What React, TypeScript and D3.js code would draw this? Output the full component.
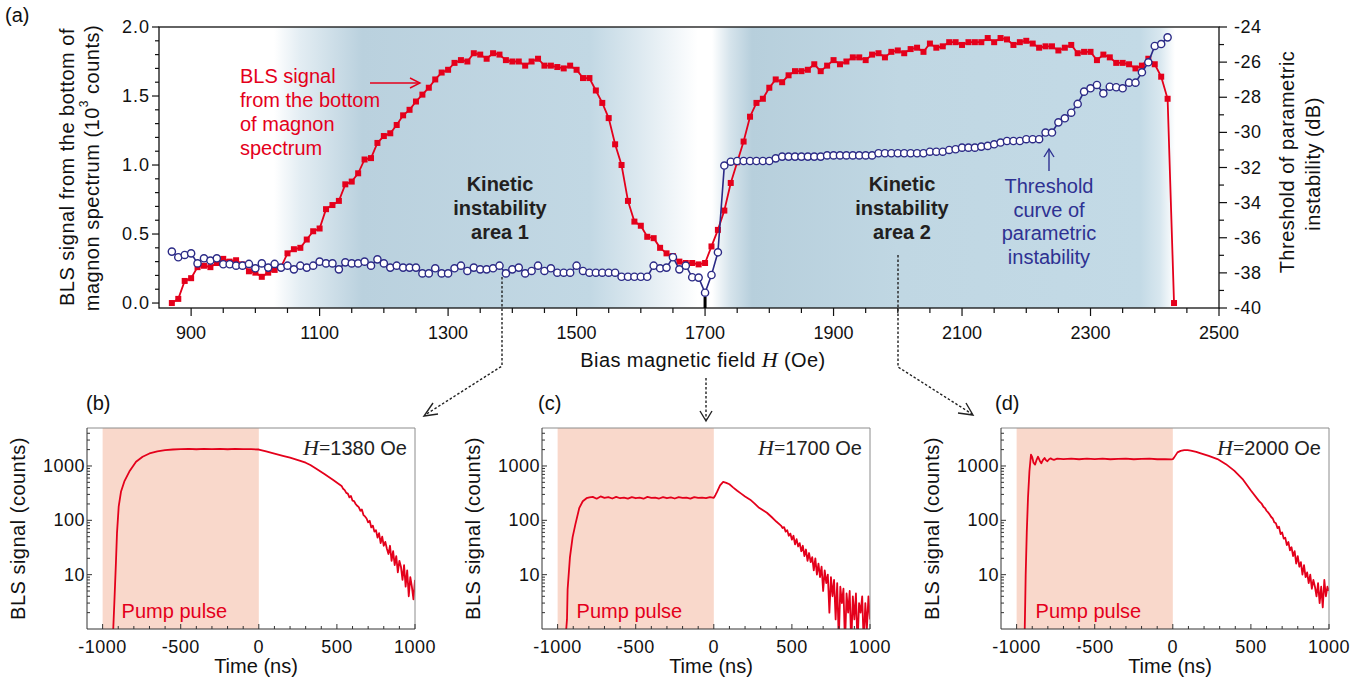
import React from 'react';
import * as d3 from 'd3';

const RED = '#e4001b';
const BLUE = '#2b2a86';
const NOTE_BLUE = '#2e3192';
const SANS = '"Liberation Sans", Arial, Helvetica, sans-serif';
const SERIF = '"Liberation Serif", "Times New Roman", serif';

// ---- panel (a): field sweep ----
const fieldOe = [
  870, 880, 890, 900, 910, 920, 930, 940, 950, 960,
  970, 980, 990, 1000, 1010, 1020, 1030, 1040, 1050, 1060,
  1070, 1080, 1090, 1100, 1110, 1120, 1130, 1140, 1150, 1160,
  1170, 1180, 1190, 1200, 1210, 1220, 1230, 1240, 1250, 1260,
  1270, 1280, 1290, 1300, 1310, 1320, 1330, 1340, 1350, 1360,
  1370, 1380, 1390, 1400, 1410, 1420, 1430, 1440, 1450, 1460,
  1470, 1480, 1490, 1500, 1510, 1520, 1530, 1540, 1550, 1560,
  1570, 1580, 1590, 1600, 1610, 1620, 1630, 1640, 1650, 1660,
  1670, 1680, 1690, 1700, 1710, 1720, 1730, 1740, 1750, 1760,
  1770, 1780, 1790, 1800, 1810, 1820, 1830, 1840, 1850, 1860,
  1870, 1880, 1890, 1900, 1910, 1920, 1930, 1940, 1950, 1960,
  1970, 1980, 1990, 2000, 2010, 2020, 2030, 2040, 2050, 2060,
  2070, 2080, 2090, 2100, 2110, 2120, 2130, 2140, 2150, 2160,
  2170, 2180, 2190, 2200, 2210, 2220, 2230, 2240, 2250, 2260,
  2270, 2280, 2290, 2300, 2310, 2320, 2330, 2340, 2350, 2360,
  2370, 2380, 2390, 2400, 2410, 2420, 2430,
];

// BLS signal, 10^3 counts
const blsSignal = [
  0.0, 0.03, 0.16, 0.18, 0.26, 0.27, 0.26, 0.29, 0.32, 0.3,
  0.31, 0.28, 0.23, 0.22, 0.19, 0.22, 0.24, 0.26, 0.36, 0.39,
  0.4, 0.46, 0.52, 0.54, 0.68, 0.71, 0.74, 0.86, 0.88, 0.94,
  1.04, 1.05, 1.16, 1.21, 1.23, 1.29, 1.36, 1.4, 1.46, 1.51,
  1.56, 1.62, 1.67, 1.69, 1.74, 1.76, 1.75, 1.81, 1.8, 1.77,
  1.81, 1.8, 1.76, 1.75, 1.75, 1.72, 1.75, 1.77, 1.72, 1.72,
  1.71, 1.7, 1.72, 1.69, 1.63, 1.63, 1.54, 1.45, 1.34, 1.15,
  1.0, 0.74, 0.59, 0.56, 0.48, 0.47, 0.4, 0.36, 0.34, 0.3,
  0.29, 0.29, 0.28, 0.29, 0.41, 0.53, 0.67, 0.87, 1.02, 1.17,
  1.35, 1.45, 1.48, 1.56, 1.62, 1.6, 1.65, 1.68, 1.68, 1.69,
  1.73, 1.68, 1.72, 1.76, 1.73, 1.75, 1.78, 1.78, 1.76, 1.8,
  1.81, 1.78, 1.82, 1.83, 1.81, 1.84, 1.85, 1.82, 1.88, 1.85,
  1.86, 1.89, 1.89, 1.87, 1.89, 1.89, 1.89, 1.92, 1.89, 1.92,
  1.91, 1.87, 1.89, 1.9, 1.88, 1.85, 1.86, 1.86, 1.83, 1.85,
  1.87, 1.81, 1.82, 1.82, 1.76, 1.8, 1.78, 1.74, 1.74, 1.73,
  1.7, 1.72, 1.77, 1.73, 1.64, 1.48, 0.0,
];

// threshold of parametric instability, dB (870 ... 2420 Oe)
const thresholdDb = [
  -36.79, -37.11, -36.98, -36.89, -37.46, -37.17, -37.3, -37.17, -37.51, -37.51,
  -37.59, -37.59, -37.49, -37.74, -37.46, -37.7, -37.49, -37.7, -37.59, -37.8,
  -37.59, -37.7, -37.59, -37.36, -37.46, -37.46, -37.8, -37.4, -37.46, -37.46,
  -37.36, -37.59, -37.23, -37.46, -37.7, -37.59, -37.7, -37.7, -37.7, -38.03,
  -38.03, -37.74, -38.03, -38.03, -37.74, -37.59, -37.89, -37.7, -37.8, -37.8,
  -37.74, -37.59, -38.03, -37.8, -37.7, -38.03, -37.89, -37.59, -37.89, -37.74,
  -37.99, -37.99, -37.99, -37.59, -37.89, -37.99, -37.99, -37.99, -37.99, -37.99,
  -38.22, -38.22, -38.22, -38.22, -38.22, -37.59, -37.74, -37.7, -37.11, -37.8,
  -37.59, -38.25, -38.27, -39.13, -38.12, -36.83, -31.89, -31.67, -31.63, -31.63,
  -31.63, -31.63, -31.63, -31.63, -31.48, -31.38, -31.38, -31.38, -31.38, -31.38,
  -31.38, -31.38, -31.31, -31.31, -31.31, -31.31, -31.31, -31.31, -31.31, -31.31,
  -31.19, -31.19, -31.19, -31.19, -31.19, -31.19, -31.19, -31.19, -31.1, -31.1,
  -31.1, -31.0, -30.96, -30.87, -30.87, -30.87, -30.81, -30.77, -30.68, -30.58,
  -30.49, -30.49, -30.49, -30.39, -30.39, -30.39, -30.01, -30.01, -29.43, -29.2,
  -28.88, -28.38, -27.68, -27.49, -27.3, -27.78, -27.4, -27.43, -27.49, -27.17,
  -27.17, -26.58, -26.01, -25.08, -24.97, -24.59,
];

const fieldTicks = [900, 1100, 1300, 1500, 1700, 1900, 2100, 2300, 2500];
const signalTicks = [0, 0.5, 1, 1.5, 2];
const thresholdTicks = [-40, -38, -36, -34, -32, -30, -28, -26, -24];

// ---- panels (b)-(d): time traces [ns, counts] ----
const traceB: [number, number][] = [
  [-935, 0.5], [-932, 1.0], [-925, 3], [-915, 16], [-908, 58], [-897, 180], [-882, 340],
  [-861, 520], [-829, 790], [-786, 1200], [-744, 1480], [-700, 1700], [-650, 1850],
  [-600, 1950], [-550, 2010], [-500, 2040], [-450, 2070], [-400, 2030], [-350, 2060],
  [-300, 2050], [-250, 2070], [-200, 2030], [-150, 2060], [-100, 2050], [-50, 2040],
  [0, 2010], [47, 1850], [100, 1690], [154, 1540], [200, 1420], [261, 1260], [300, 1150],
  [330, 1040], [368, 890], [420, 710], [474, 560],
  [530, 430], [540, 380], [550, 360], [560, 320], [570, 310], [580, 265], [590, 280],
  [600, 230], [610, 225], [620, 200], [630, 185], [640, 175], [650, 150], [660, 158],
  [670, 125], [680, 118], [690, 108], [700, 92], [710, 98], [720, 74], [730, 80],
  [740, 62], [750, 66], [760, 48], [770, 58], [780, 38], [790, 50], [800, 34],
  [810, 40], [820, 30], [830, 24], [840, 34], [850, 18], [860, 27], [870, 15],
  [880, 22], [890, 11], [900, 18], [910, 14], [920, 8], [930, 15], [940, 6],
  [950, 12], [960, 4], [970, 9], [980, 6], [990, 3.5], [1000, 8],
];

const traceC: [number, number][] = [
  [-950, 0.5], [-946, 0.9], [-940, 1.5], [-936, 5.4], [-921, 21], [-904, 49], [-886, 85],
  [-861, 170], [-839, 224], [-815, 255], [-796, 265],
  [-775, 270], [-750, 250], [-725, 275], [-700, 258], [-675, 268], [-650, 252],
  [-625, 270], [-600, 255], [-575, 262], [-550, 250], [-525, 268], [-500, 255],
  [-475, 262], [-450, 250], [-425, 270], [-400, 258], [-375, 262], [-350, 252],
  [-325, 268], [-300, 255], [-275, 265], [-250, 252], [-225, 268], [-200, 258],
  [-175, 262], [-150, 250], [-125, 268], [-100, 258], [-75, 262], [-50, 255],
  [-25, 268], [0, 260],
  [10, 290], [20, 330], [40, 440], [60, 510], [80, 490], [100, 460], [125, 400],
  [150, 350], [175, 310], [200, 275], [233, 240], [260, 205], [290, 170], [320, 150],
  [340, 138], [370, 115], [400, 95], [430, 80], [440, 72],
  [450, 75], [460, 62], [470, 66], [480, 52], [490, 57], [500, 44], [510, 52],
  [520, 36], [530, 45], [540, 33], [550, 38], [560, 27], [570, 34], [580, 22],
  [590, 29], [600, 18], [610, 25], [620, 17], [630, 21], [640, 12], [650, 20],
  [660, 10], [670, 16], [680, 9], [690, 14], [700, 5], [710, 12], [720, 7],
  [730, 10], [740, 2], [750, 9], [760, 4], [770, 8], [780, 1.5], [790, 7],
  [800, 0.6], [810, 6], [820, 3], [830, 5.5], [840, 0.5], [850, 4.5], [860, 2],
  [870, 5], [880, 0.5], [890, 4], [900, 1.5], [910, 4.5], [920, 0.5], [930, 3],
  [940, 2], [950, 4], [960, 0.5], [970, 3], [980, 1], [990, 4], [1000, 1.5],
];

const traceD: [number, number][] = [
  [-950, 0.5], [-945, 3], [-942, 10], [-935, 60], [-927, 266], [-918, 800], [-908, 1620],
  [-900, 1450], [-892, 1150], [-882, 1060], [-872, 1300], [-863, 1480], [-852, 1250],
  [-842, 1120], [-832, 1280], [-821, 1400], [-812, 1280], [-803, 1220], [-792, 1330],
  [-782, 1380], [-770, 1320], [-761, 1300], [-740, 1360],
  [-700, 1340], [-650, 1370], [-600, 1330], [-550, 1360], [-500, 1340], [-450, 1370],
  [-400, 1330], [-350, 1350], [-300, 1360], [-250, 1330], [-200, 1350], [-150, 1360],
  [-100, 1330], [-50, 1340], [-10, 1320], [0, 1340],
  [9, 1440], [30, 1780], [50, 1900], [73, 1960], [95, 1950], [115, 1910], [150, 1820],
  [179, 1710], [230, 1530], [286, 1340], [340, 1080], [393, 820], [450, 560],
  [500, 353], [550, 230],
  [560, 215], [570, 200], [580, 178], [590, 168], [600, 150], [610, 140], [620, 128],
  [630, 115], [640, 108], [650, 92], [660, 88], [670, 72], [680, 76], [690, 56],
  [700, 60], [710, 46], [720, 48], [730, 35], [740, 40], [750, 28], [760, 32],
  [770, 22], [780, 27], [790, 16], [800, 22], [810, 14], [820, 17], [830, 10],
  [840, 15], [850, 9], [860, 11], [870, 7], [880, 10], [890, 5.5], [900, 8],
  [910, 6], [920, 4], [930, 7], [940, 3], [950, 6], [960, 2.5], [970, 8],
  [980, 4], [990, 6], [1000, 5],
];

const timeTicks = [-1000, -500, 0, 500, 1000];
const countTicks = [10, 100, 1000];

function FieldPanel() {
  const x = d3.scaleLinear().domain([850, 2500]).range([159, 1219]);
  const yL = d3.scaleLinear().domain([-0.036, 2.0]).range([308, 27]);
  const yR = d3.scaleLinear().domain([-40, -24]).range([308, 27]);
  const [x0, x1] = x.range();
  const [y0, y1] = yL.range();
  const frac = (v: number) => (v - x0) / (x1 - x0);

  const redPts = fieldOe.map((h, i) => [x(h), yL(blsSignal[i])] as [number, number]);
  const bluePts = thresholdDb.map((v, i) => [x(fieldOe[i]), yR(v)] as [number, number]);
  const line = d3.line<[number, number]>();

  const minorX = d3.range(900, 2501, 50);
  const minorL = d3.range(0, 2.01, 0.1);
  const minorR = d3.range(-40, -23, 1);

  const stops: [number, string][] = [
    [frac(159), '#ffffff'], [frac(274), '#ffffff'], [frac(300), '#e3edf3'],
    [frac(362), '#bad1de'], [frac(590), '#c2d8e4'], [frac(640), '#dde9f0'],
    [frac(698), '#ffffff'], [frac(712), '#ffffff'], [frac(730), '#d6e4ec'],
    [frac(752), '#b7cfdc'], [frac(900), '#c0d7e3'], [frac(1140), '#c3dae6'],
    [frac(1160), '#d8e7ef'], [frac(1175), '#ffffff'], [frac(1219), '#ffffff'],
  ];

  return (
    <g fontFamily={SANS}>
      <defs>
        <linearGradient id="bgA" gradientUnits="userSpaceOnUse" x1={x0} x2={x1} y1={0} y2={0}>
          {stops.map(([o, c], i) => (
            <stop key={i} offset={o} stopColor={c} />
          ))}
        </linearGradient>
      </defs>
      <rect x={x0} y={y1} width={x1 - x0} height={y0 - y1} fill="url(#bgA)" />

      {/* annotations inside */}
      <g fill={RED} fontSize={20}>
        {['BLS signal', 'from the bottom', 'of magnon', 'spectrum'].map((t, i) => (
          <text key={t} x={240} y={83 + i * 24}>{t}</text>
        ))}
      </g>
      <g stroke={RED} strokeWidth={1.4} fill="none">
        <line x1={370} y1={83} x2={420} y2={83} />
        <polyline points="410,78 420,83 410,88" />
      </g>
      {[500, 902].map((cx, k) => (
        <g key={cx} fontWeight="bold" fontSize={20} fill="#231f20" textAnchor="middle">
          <text x={cx} y={191}>Kinetic</text>
          <text x={cx} y={215}>instability</text>
          <text x={cx} y={239}>{`area ${k + 1}`}</text>
        </g>
      ))}
      <g fill={NOTE_BLUE} fontSize={20} textAnchor="middle">
        {['Threshold', 'curve of', 'parametric', 'instability'].map((t, i) => (
          <text key={t} x={1049} y={193 + i * 23.5}>{t}</text>
        ))}
      </g>
      <g stroke={NOTE_BLUE} strokeWidth={1.4} fill="none">
        <line x1={1049} y1={171} x2={1049} y2={149} />
        <polyline points="1044,157 1049,149 1054,157" />
      </g>

      {/* data */}
      <path d={line(redPts) ?? ''} fill="none" stroke={RED} strokeWidth={1.8} />
      {redPts.map(([px, py], i) => (
        <rect key={i} x={px - 3} y={py - 3} width={6} height={6} fill={RED} />
      ))}
      <path d={line(bluePts) ?? ''} fill="none" stroke={BLUE} strokeWidth={1.6} />
      {bluePts.map(([px, py], i) => (
        <circle key={i} cx={px} cy={py} r={3.6} fill="#fff" stroke={BLUE} strokeWidth={1.4} />
      ))}

      {/* frame and axes */}
      <rect x={x0} y={y1} width={x1 - x0} height={y0 - y1} fill="none" stroke="#111" strokeWidth={1.3} />
      <line x1={x(1700)} x2={x(1700)} y1={297} y2={y0} stroke="#000" strokeWidth={3} />
      {minorX.map((v) => (
        <line key={v} x1={x(v)} x2={x(v)} y1={y0} y2={y0 + ((v - 900) % 200 === 0 ? 8 : 5)} stroke="#111" strokeWidth={1.2} />
      ))}
      {minorL.map((v) => {
        const major = Math.abs(v * 2 - Math.round(v * 2)) < 1e-6;
        return <line key={v} x1={x0} x2={x0 - (major ? 7 : 4)} y1={yL(v)} y2={yL(v)} stroke="#111" strokeWidth={1.2} />;
      })}
      {minorR.map((v) => (
        <line key={v} x1={x1} x2={x1 + (v % 2 === 0 ? 8 : 5)} y1={yR(v)} y2={yR(v)} stroke="#111" strokeWidth={1.2} />
      ))}
      <g fontSize={18} fill="#111">
        {fieldTicks.map((v) => (
          <text key={v} x={x(v)} y={339} textAnchor="middle">{v}</text>
        ))}
        {signalTicks.map((v) => (
          <text key={v} x={150} y={yL(v)} textAnchor="end" dominantBaseline="central" letterSpacing={1}>
            {v.toFixed(1)}
          </text>
        ))}
        {thresholdTicks.map((v) => (
          <text key={v} x={1234} y={yR(v)} dominantBaseline="central" letterSpacing={0.5}>{v}</text>
        ))}
      </g>
      <text x={703} y={367} fontSize={20} textAnchor="middle" fill="#111" letterSpacing={0.4}>
        Bias magnetic field <tspan fontFamily={SERIF} fontStyle="italic" fontSize={22}>H</tspan> (Oe)
      </text>
      <g fontSize={20} fill="#111" textAnchor="middle" letterSpacing={0.5}>
        <text transform="translate(67,167) rotate(-90)" dominantBaseline="central">
          BLS signal from the bottom of
        </text>
        <text transform="translate(92,168) rotate(-90)" dominantBaseline="central">
          magnon spectrum (10<tspan fontSize={12} dy={-8}>3</tspan><tspan dy={8}> counts)</tspan>
        </text>
        <text transform="translate(1287,162) rotate(-90)" dominantBaseline="central">
          Threshold of parametric
        </text>
        <text transform="translate(1313,164) rotate(-90)" dominantBaseline="central">
          instability (dB)
        </text>
      </g>
      <text x={5} y={22} fontSize={20} fill="#111">(a)</text>

      {/* dotted connectors */}
      <g stroke="#222" strokeWidth={1.4} fill="none">
        <polyline points="502,277 502,366 425,415" strokeDasharray="2.5,2" />
        <polyline points="433,403 424,416 438,414" />
        <polyline points="706,378 706,420" strokeDasharray="2.5,2" />
        <polyline points="700,411 706,421 712,411" />
        <polyline points="898,255 898,367 972,414" strokeDasharray="2.5,2" />
        <polyline points="958,413 973,415 966,403" />
      </g>
    </g>
  );
}

function TimePanel({
  left,
  trace,
  letter,
  letterX,
  fieldLabel,
}: {
  left: number;
  trace: [number, number][];
  letter: string;
  letterX: number;
  fieldLabel: string;
}) {
  const top = 428;
  const bottom = 629;
  const width = 328;
  const x = d3.scaleLinear().domain([-1100, 1000]).range([left, left + width]);
  const y = d3.scaleLog().domain([1, 5000]).range([bottom, top]);
  const line = d3
    .line<[number, number]>()
    .x((d) => x(d[0]))
    .y((d) => y(Math.max(d[1], 0.3)));
  const clipId = `clip-${letter}`;
  const minorX = d3.range(-1000, 1001, 100);
  const minorY = y.ticks(40).filter((v) => v > 1 && v < 5000);
  const right = left + width;

  return (
    <g fontFamily={SANS}>
      <defs>
        <clipPath id={clipId}>
          <rect x={left} y={top} width={width} height={bottom - top} />
        </clipPath>
      </defs>
      <rect x={x(-1000)} y={top} width={x(0) - x(-1000)} height={bottom - top} fill="#f9d8cb" />
      <text x={x(-1000) + 19} y={618} fontSize={20} fill={RED}>Pump pulse</text>
      <text x={right - 8} y={455} fontSize={20} fill="#222" textAnchor="end">
        <tspan fontFamily={SERIF} fontStyle="italic" fontSize={22}>H</tspan>
        <tspan fontFamily={SERIF} fontSize={20}>=</tspan>
        {fieldLabel}
      </text>
      <path
        d={line(trace) ?? ''}
        fill="none"
        stroke={RED}
        strokeWidth={1.8}
        clipPath={`url(#${clipId})`}
        strokeLinejoin="round"
      />

      <line x1={left} x2={right} y1={top} y2={top} stroke="#8c8c8c" />
      <line x1={right} x2={right} y1={top} y2={bottom} stroke="#8c8c8c" />
      <line x1={left} x2={left} y1={top} y2={bottom} stroke="#333" />
      <line x1={left} x2={right} y1={bottom} y2={bottom} stroke="#333" />
      {minorX.map((v) => (
        <line key={v} x1={x(v)} x2={x(v)} y1={bottom} y2={bottom - (v % 500 === 0 ? 5 : 3)} stroke="#333" />
      ))}
      {minorY.map((v) => {
        const major = countTicks.includes(v);
        return <line key={v} x1={left} x2={left + (major ? 5 : 3)} y1={y(v)} y2={y(v)} stroke="#333" />;
      })}
      <g fontSize={18} fill="#111">
        {timeTicks.map((v) => (
          <text key={v} x={x(v)} y={653} textAnchor="middle" letterSpacing={0.5}>{v}</text>
        ))}
        {countTicks.map((v) => (
          <text key={v} x={left - 2} y={y(v)} textAnchor="end" dominantBaseline="central" letterSpacing={0.5}>{v}</text>
        ))}
      </g>
      <text x={(left + right) / 2 + 5} y={673} fontSize={20} textAnchor="middle" fill="#111">Time (ns)</text>
      <text
        transform={`translate(${left - 69},${(top + bottom) / 2}) rotate(-90)`}
        fontSize={20}
        textAnchor="middle"
        dominantBaseline="central"
        fill="#111"
        letterSpacing={0.5}
      >
        BLS signal (counts)
      </text>
      <text x={letterX} y={410} fontSize={20} fill="#111">{`(${letter})`}</text>
    </g>
  );
}

export default function App() {
  return (
    <svg
      width={1365}
      height={684}
      viewBox="0 0 1365 684"
      style={{ position: 'absolute', left: 0, top: 0, display: 'block', background: '#fff' }}
    >
      <FieldPanel />
      <TimePanel left={87} trace={traceB} letter="b" letterX={86} fieldLabel="1380 Oe" />
      <TimePanel left={542} trace={traceC} letter="c" letterX={538} fieldLabel="1700 Oe" />
      <TimePanel left={1001} trace={traceD} letter="d" letterX={995} fieldLabel="2000 Oe" />
    </svg>
  );
}
